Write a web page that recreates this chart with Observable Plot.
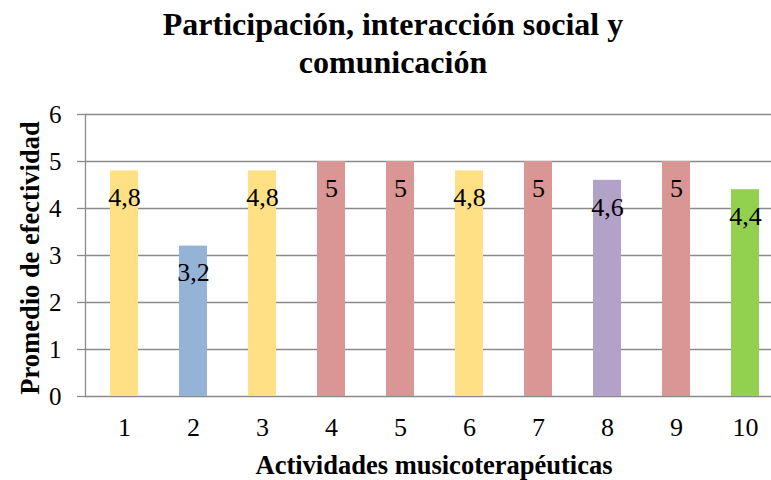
<!DOCTYPE html>
<html><head><meta charset="utf-8">
<script src="https://cdn.jsdelivr.net/npm/d3@7"></script>
<script src="https://cdn.jsdelivr.net/npm/@observablehq/plot@0.6"></script>
<style>
body{margin:0;background:#fff;font-family:"Liberation Serif","Times New Roman",serif;}
#wrap{position:relative;width:771px;height:480px;overflow:hidden;}
#title{position:absolute;left:0;width:786px;top:5px;text-align:center;font-weight:bold;font-size:32px;line-height:38px;color:#000;}
#ylab{position:absolute;left:30px;top:258px;transform:translate(-50%,-50%) rotate(-90deg);white-space:nowrap;font-weight:bold;font-size:26.5px;color:#000;}
#xlab{position:absolute;left:434px;top:465px;transform:translate(-50%,-50%);white-space:nowrap;font-weight:bold;font-size:26.5px;color:#000;}
#chart{position:absolute;left:0;top:0;}
#chart svg, #chart svg text, #chart svg g{font-family:"Liberation Serif","Times New Roman",serif !important;}
</style></head>
<body>
<div id="wrap">
<div id="chart"></div>
<div id="title">Participación, interacción social y<br>comunicación</div>
<div id="ylab">Promedio de efectividad</div>
<div id="xlab">Actividades musicoterapéuticas</div>
</div>
<script>
const activities = ["1","2","3","4","5","6","7","8","9","10"];
const values = [4.8, 3.2, 4.8, 5, 5, 4.8, 5, 4.6, 5, 4.4];
const colorValues = [4.8, 3.2, 5, 4.6, 4.4];
const colorRange = ["#FFE085", "#95B3D7", "#D99694", "#B3A2C7", "#92D050"];
const yTicks = [0, 1, 2, 3, 4, 5, 6];

const data = activities.map((a, i) => ({activity: a, value: values[i]}));
const fmt = v => String(v).replace(".", ",");
const serif = "Liberation Serif";

const chart = Plot.plot({
  width: 771,
  height: 480,
  marginLeft: 85,
  marginRight: 0,
  marginTop: 114,
  marginBottom: 84,
  style: {color: "#000", background: "transparent", fontFamily: serif},
  x: {type: "band", domain: activities, range: [85, 783], paddingInner: 0.6, paddingOuter: 0.3, align: 0.5, axis: null, label: null},
  y: {domain: [0, 6], axis: null, label: null},
  color: {type: "ordinal", domain: colorValues, range: colorRange},
  marks: [
    Plot.ruleY(yTicks, {stroke: "#8a8a8a", strokeWidth: 1.3}),
    Plot.barY(data, {x: "activity", y: "value", fill: "value"}),
    Plot.text(data, {x: "activity", y: "value", text: d => fmt(d.value), dy: 27, fontSize: 26, fontFamily: serif, lineAnchor: "middle", fill: "#000"}),
    Plot.frame({anchor: "left", stroke: "#8a8a8a", strokeWidth: 1.3}),
    Plot.axisY({ticks: yTicks, tickSize: 8, tickPadding: 16, stroke: "#8a8a8a", strokeWidth: 1.3, fill: "#000", fontSize: 25, fontFamily: serif, label: null, tickFormat: d => String(d)}),
    Plot.axisX({tickSize: 0, tickPadding: 21, fontSize: 26, fontFamily: serif, fill: "#000", label: null})
  ]
});
document.getElementById("chart").appendChild(chart);
</script>
</body></html>
